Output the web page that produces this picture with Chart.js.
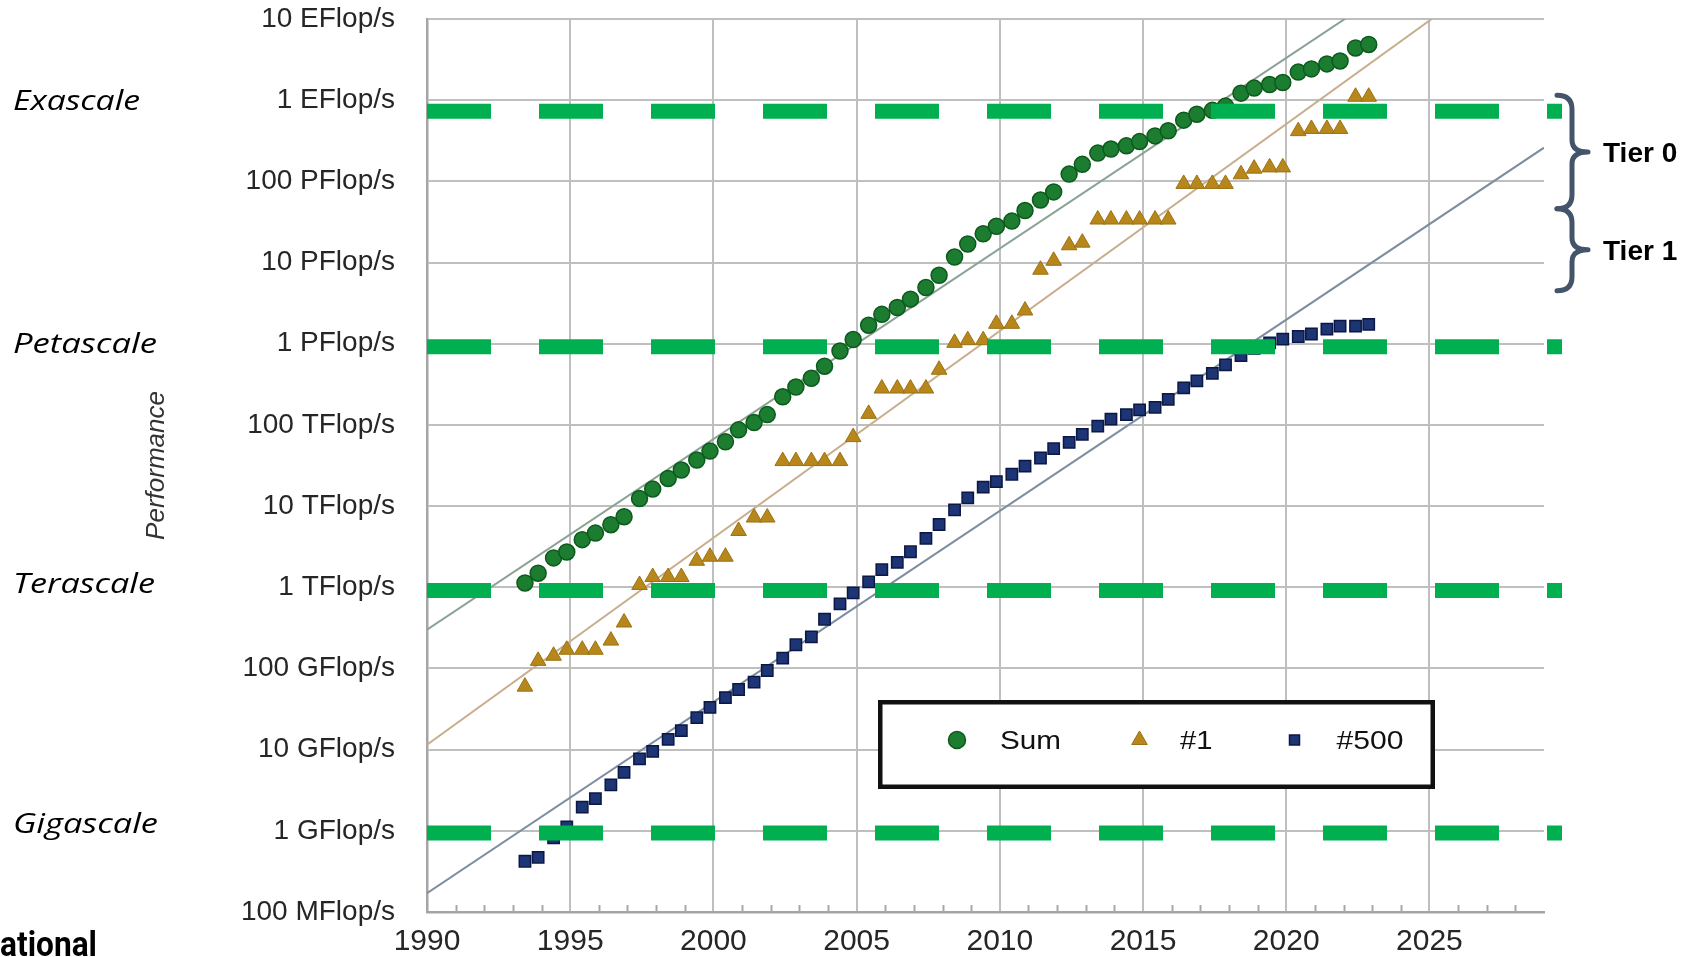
<!DOCTYPE html>
<html>
<head>
<meta charset="utf-8">
<title>Performance Development</title>
<script src="https://cdn.jsdelivr.net/npm/chart.js@4.4.1/dist/chart.umd.min.js"></script>
<style>
  html, body { margin: 0; padding: 0; background: #ffffff; }
  #wrap { position: relative; width: 1685px; height: 957px; overflow: hidden; background: #ffffff; }
  #chart { position: absolute; left: 0; top: 0; }
  #overlay { position: absolute; left: 0; top: 0; pointer-events: none; }
</style>
</head>
<body>
<div id="wrap">
  <canvas id="chart" width="1685" height="957"></canvas>
  <svg id="overlay" width="1685" height="957" xmlns="http://www.w3.org/2000/svg"></svg>
</div>
<script>
// ---- list dates (June / November editions) ----
const listDates = [
  1993.42, 1993.88, 1994.42, 1994.88, 1995.42, 1995.88, 1996.42, 1996.88, 1997.42, 1997.88,
  1998.42, 1998.88, 1999.42, 1999.88, 2000.42, 2000.88, 2001.42, 2001.88, 2002.42, 2002.88,
  2003.42, 2003.88, 2004.42, 2004.88, 2005.42, 2005.88, 2006.42, 2006.88, 2007.42, 2007.88,
  2008.42, 2008.88, 2009.42, 2009.88, 2010.42, 2010.88, 2011.42, 2011.88, 2012.42, 2012.88,
  2013.42, 2013.88, 2014.42, 2014.88, 2015.42, 2015.88, 2016.42, 2016.88, 2017.42, 2017.88,
  2018.42, 2018.88, 2019.42, 2019.88, 2020.42, 2020.88, 2021.42, 2021.88, 2022.42, 2022.88
];

// ---- performance in Flop/s ----
const sumPerf = [
  1.13e12, 1.49e12, 2.30e12, 2.72e12, 3.86e12, 4.65e12, 5.9e12, 7.4e12, 12.4e12, 16.2e12,
  21.9e12, 27.8e12, 36.9e12, 47.6e12, 62.0e12, 87.0e12, 107e12, 134e12, 222e12, 293e12,
  375e12, 528e12, 813e12, 1.127e15, 1.69e15, 2.30e15, 2.79e15, 3.54e15, 4.92e15, 6.97e15,
  11.7e15, 16.95e15, 22.6e15, 27.95e15, 32.4e15, 43.7e15, 58.9e15, 74.2e15, 123e15, 162e15,
  223e15, 250e15, 274e15, 309e15, 363e15, 420e15, 567e15, 672e15, 749e15, 845e15,
  1.22e18, 1.41e18, 1.56e18, 1.65e18, 2.22e18, 2.43e18, 2.80e18, 3.04e18, 4.40e18, 4.86e18
];

const topPerf = [
  59.7e9, 124e9, 143.4e9, 170e9, 170e9, 170e9, 220.4e9, 368.2e9, 1.068e12, 1.338e12,
  1.338e12, 1.338e12, 2.121e12, 2.379e12, 2.379e12, 4.938e12, 7.226e12, 7.226e12, 35.86e12, 35.86e12,
  35.86e12, 35.86e12, 35.86e12, 70.72e12, 136.8e12, 280.6e12, 280.6e12, 280.6e12, 280.6e12, 478.2e12,
  1.026e15, 1.105e15, 1.105e15, 1.759e15, 1.759e15, 2.566e15, 8.162e15, 10.51e15, 16.32e15, 17.59e15,
  33.86e15, 33.86e15, 33.86e15, 33.86e15, 33.86e15, 33.86e15, 93.01e15, 93.01e15, 93.01e15, 93.01e15,
  122.3e15, 143.5e15, 148.6e15, 148.6e15, 415.5e15, 442.0e15, 442.0e15, 442.0e15, 1.102e18, 1.102e18
];

const lastPerf = [
  0.422e9, 0.472e9, 0.822e9, 1.114e9, 1.955e9, 2.489e9, 3.689e9, 5.235e9, 7.68e9, 9.51e9,
  13.39e9, 17.12e9, 24.73e9, 33.09e9, 43.82e9, 55.1e9, 67.78e9, 94.3e9, 134.3e9, 195.8e9,
  245.1e9, 403.4e9, 624e9, 851e9, 1.166e12, 1.646e12, 2.026e12, 2.737e12, 4.005e12, 5.929e12,
  9.0e12, 12.64e12, 17.09e12, 20.05e12, 24.67e12, 31.12e12, 39.09e12, 50.94e12, 60.82e12, 76.5e12,
  96.62e12, 117.8e12, 133.7e12, 153.4e12, 164.8e12, 206.3e12, 285.8e12, 349.3e12, 432.2e12, 548.3e12,
  715.6e12, 874.8e12, 1.022e15, 1.142e15, 1.228e15, 1.317e15, 1.511e15, 1.646e15, 1.65e15, 1.73e15
];

// ---- exponential trend lines: [year, Flop/s] end points ----
const sumTrend  = [[1990, 3.0e11], [2029, 4.3e20]];
const topTrend  = [[1990, 1.15e10], [2029, 1.0e20]];
const lastTrend = [[1990, 1.7e8],  [2029, 2.6e17]];

// ---- axes ----
const xTickValues = [1990, 1995, 2000, 2005, 2010, 2015, 2020, 2025];
const yTickValues = [1e8, 1e9, 1e10, 1e11, 1e12, 1e13, 1e14, 1e15, 1e16, 1e17, 1e18, 1e19];
const yTickLabels = [
  '100 MFlop/s', '1 GFlop/s', '10 GFlop/s', '100 GFlop/s', '1 TFlop/s', '10 TFlop/s',
  '100 TFlop/s', '1 PFlop/s', '10 PFlop/s', '100 PFlop/s', '1 EFlop/s', '10 EFlop/s'
];
const seriesNames = ['Sum', '#1', '#500'];

// ---- scale bands and tiers ----
const scaleNames  = ['Exascale', 'Petascale', 'Terascale', 'Gigascale'];
const bandLevels  = [7.3e17, 9.2e14, 9.1e11, 9.4e8];
const tierNames   = ['Tier 0', 'Tier 1'];
const tierBounds  = [1.15e18, 4.6e16, 4.5e15];

const toPoints = (xs, ys) => xs.map((x, i) => ({ x: x, y: ys[i] }));
const pairPoints = (pairs) => pairs.map(p => ({ x: p[0], y: p[1] }));

const FONT = 'Liberation Sans, Arial, sans-serif';

// minor year ticks along the bottom axis and the green scale bands
const decorPlugin = {
  id: 'decor',
  beforeDatasetsDraw(chart) {
    const { ctx, chartArea, scales } = chart;
    const xs = scales.x;
    ctx.save();
    ctx.strokeStyle = '#a8a8a8';
    ctx.lineWidth = 2;
    for (let yr = Math.ceil(xs.min) + 1; yr < xs.max; yr++) {
      if (yr % 5 === 0) continue;
      const px = Math.round(xs.getPixelForValue(yr)) + 0.5;
      ctx.beginPath();
      ctx.moveTo(px, chartArea.bottom);
      ctx.lineTo(px, chartArea.bottom - 7);
      ctx.stroke();
    }
    ctx.restore();
  },
  afterDatasetsDraw(chart) {
    const { ctx, chartArea, scales } = chart;
    const ys = scales.y;
    ctx.save();
    ctx.strokeStyle = '#00b050';
    ctx.lineWidth = 15;
    ctx.lineCap = 'butt';
    ctx.setLineDash([64, 48]);
    bandLevels.forEach(v => {
      const py = ys.getPixelForValue(v);
      ctx.beginPath();
      ctx.moveTo(chartArea.left, py);
      ctx.lineTo(chartArea.right + 18, py);
      ctx.stroke();
    });
    ctx.restore();
  }
};

const chart = new Chart(document.getElementById('chart'), {
  type: 'scatter',
  data: {
    datasets: [
      { label: seriesNames[0], data: toPoints(listDates, sumPerf), pointStyle: 'circle', pointRadius: 8,
        backgroundColor: '#1c7c30', borderColor: '#0d5a1d', borderWidth: 1.5, order: 1 },
      { label: seriesNames[1], data: toPoints(listDates, topPerf), pointStyle: 'triangle', pointRadius: 9,
        backgroundColor: '#b7871c', borderColor: '#9b7112', borderWidth: 1, order: 2 },
      { label: seriesNames[2], data: toPoints(listDates, lastPerf), pointStyle: 'rect', pointRadius: 8,
        backgroundColor: '#1d3575', borderColor: '#0b1844', borderWidth: 1.5, order: 3 },
      { label: 'Sum trend', data: pairPoints(sumTrend), showLine: true, pointRadius: 0,
        borderColor: '#88a293', borderWidth: 2, clip: 0, order: 10 },
      { label: '#1 trend', data: pairPoints(topTrend), showLine: true, pointRadius: 0,
        borderColor: '#c9ae8e', borderWidth: 2, clip: 0, order: 10 },
      { label: '#500 trend', data: pairPoints(lastTrend), showLine: true, pointRadius: 0,
        borderColor: '#7e8ea0', borderWidth: 2, clip: 0, order: 10 }
    ]
  },
  options: {
    responsive: false,
    animation: false,
    devicePixelRatio: 1,
    events: [],
    layout: { padding: { top: 19, right: 141, bottom: 0, left: 0 } },
    plugins: { legend: { display: false }, tooltip: { enabled: false } },
    scales: {
      x: {
        type: 'linear', min: 1990, max: 2029,
        afterBuildTicks: s => { s.ticks = xTickValues.map(v => ({ value: v })); },
        afterFit: s => { s.height = 45; },
        ticks: { autoSkip: false, maxRotation: 0, padding: 12, color: '#262626',
                 font: { family: FONT, size: 30 }, callback: v => String(v) },
        grid: { color: '#bfbfbf', lineWidth: 2, drawTicks: false },
        border: { color: '#a5a5a5', width: 2.5 }
      },
      y: {
        type: 'logarithmic', min: 1e8, max: 1e19,
        afterBuildTicks: s => { s.ticks = yTickValues.map(v => ({ value: v })); },
        afterFit: s => { s.width = 427; },
        ticks: { padding: 2, color: '#262626', font: { family: FONT, size: 28 },
                 callback: (v, i) => yTickLabels[i] },
        grid: { color: '#bfbfbf', lineWidth: 2, drawTicks: true, tickLength: 30,
                tickColor: 'rgba(0,0,0,0)' },
        border: { color: '#a5a5a5', width: 2.5 },
        title: { display: true, text: 'Performance', color: '#333333',
                 font: { family: FONT, size: 26, style: 'italic' },
                 padding: { top: 141, bottom: 0 } }
      }
    }
  },
  plugins: [decorPlugin]
});

// ---- annotations: scale names, tier braces, legend ----
const svgNS = 'http://www.w3.org/2000/svg';
const svg = document.getElementById('overlay');
function el(tag, attrs, text) {
  const n = document.createElementNS(svgNS, tag);
  for (const k in attrs) n.setAttribute(k, attrs[k]);
  if (text !== undefined) n.textContent = text;
  svg.appendChild(n);
  return n;
}

const area = chart.chartArea;
const yScale = chart.scales.y;

// scale names on the left
const scaleBaselines = [110, 353, 593, 833];
const scaleWidths = [127, 144, 142, 145];
scaleNames.forEach((name, i) => {
  el('text', { x: 13, y: scaleBaselines[i], 'font-family': 'Open Sans, sans-serif', 'font-style': 'italic',
               'font-size': 28, fill: '#000', textLength: scaleWidths[i], lengthAdjust: 'spacingAndGlyphs' }, name);
});

// cut-off caption at the bottom left
el('text', { x: 0, y: 956, 'font-family': 'Roboto, sans-serif', 'font-weight': 700, 'font-size': 35,
             fill: '#000', textLength: 97, lengthAdjust: 'spacingAndGlyphs' }, 'ational');

// tier braces
const bx0 = area.right + 13, bx1 = area.right + 28, bx2 = area.right + 44;
for (let t = 0; t < tierNames.length; t++) {
  const top = yScale.getPixelForValue(tierBounds[t]);
  const bot = yScale.getPixelForValue(tierBounds[t + 1]);
  const mid = (top + bot) / 2;
  const r = 14, rt = 12;
  const d = `M${bx0},${top} Q${bx1},${top} ${bx1},${top + r} L${bx1},${mid - rt} ` +
            `Q${bx1},${mid} ${bx2},${mid} Q${bx1},${mid} ${bx1},${mid + rt} ` +
            `L${bx1},${bot - r} Q${bx1},${bot} ${bx0},${bot}`;
  el('path', { d: d, fill: 'none', stroke: '#44546a', 'stroke-width': 5, 'stroke-linecap': 'round',
               'stroke-linejoin': 'round' });
  el('text', { x: area.right + 59, y: mid + 10, 'font-family': FONT, 'font-weight': 700,
               'font-size': 28, fill: '#000' }, tierNames[t]);
}

// legend box
el('rect', { x: 880.25, y: 702.25, width: 552.5, height: 84.5, fill: '#ffffff', stroke: '#111111', 'stroke-width': 4.5 });
const legendMarkX = [957, 1139.5, 1294.5];
const legendTextX = [1000, 1180, 1336.5];
const legendTextW = [61, 32.5, 67];
chart.data.datasets.slice(0, 3).forEach((ds, i) => {
  const cx = legendMarkX[i], cy = 740;
  if (ds.pointStyle === 'circle') {
    el('circle', { cx: cx, cy: cy, r: 8.5, fill: ds.backgroundColor, stroke: ds.borderColor, 'stroke-width': 1.5 });
  } else if (ds.pointStyle === 'triangle') {
    el('polygon', { points: `${cx},${cy - 9} ${cx - 7.8},${cy + 4.5} ${cx + 7.8},${cy + 4.5}`,
                    fill: ds.backgroundColor, stroke: ds.borderColor, 'stroke-width': 1 });
  } else {
    el('rect', { x: cx - 5, y: cy - 5, width: 10, height: 10, fill: ds.backgroundColor,
                 stroke: ds.borderColor, 'stroke-width': 1.5 });
  }
  el('text', { x: legendTextX[i], y: 748.5, 'font-family': FONT, 'font-size': 26, fill: '#111',
               textLength: legendTextW[i], lengthAdjust: 'spacingAndGlyphs' }, ds.label);
});
</script>
</body>
</html>
